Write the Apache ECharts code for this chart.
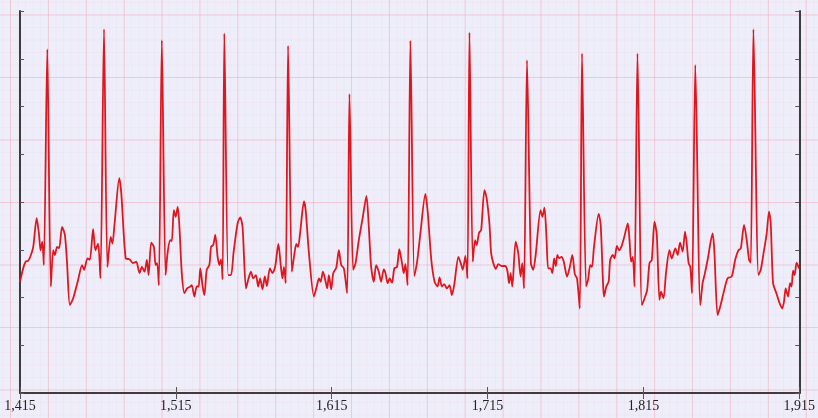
<!DOCTYPE html>
<html>
<head>
<meta charset="utf-8">
<title>ECG</title>
<script src="https://cdn.jsdelivr.net/npm/echarts@6/dist/echarts.min.js"></script>
<style>
  html, body {
    margin: 0;
    padding: 0;
  }
  body {
    width: 818px;
    height: 418px;
    background-color: #eeeefa;
    /* ecg paper: major + minor pink lines */
    background-image:
      linear-gradient(to right, rgba(242, 165, 180, 0.45) 1px, transparent 1px),
      linear-gradient(to bottom, rgba(242, 165, 180, 0.45) 1px, transparent 1px),
      linear-gradient(to right, rgba(236, 190, 210, 0.16) 1px, transparent 1px),
      linear-gradient(to bottom, rgba(236, 190, 210, 0.16) 1px, transparent 1px);
    background-size: 37.9px 100%, 100% 62.5px, 7.58px 100%, 100% 12.5px;
    background-position: 10px 0, 0 14.5px, 10px 0, 0 14.5px;
  }
  #chart {
    width: 818px;
    height: 418px;
  }
</style>
</head>
<body>
<div id="chart"></div>
<script>
// x ticks (sample index)
var xMin = 1415
var xMax = 1915
var xStep = 100

// sample index of each traced point
var sampleIdx = [
  1415.0, 1417.1, 1418.6, 1420.3, 1422.0, 1423.5, 1425.7, 1427.1, 1428.2, 1429.3,
  1430.3, 1432.5, 1434.8, 1436.3, 1437.4, 1438.8, 1440.1, 1442.0, 1443.8, 1445.2,
  1447.0, 1449.1, 1452.3, 1454.8, 1456.1, 1458.3, 1459.8, 1461.9, 1463.4, 1465.1,
  1466.6, 1468.9, 1471.1, 1473.2, 1474.3, 1475.7, 1478.7, 1480.0, 1482.8, 1485.3,
  1487.4, 1489.6, 1491.7, 1493.2, 1494.9, 1496.4, 1497.5, 1499.2, 1500.9, 1502.0,
  1503.0, 1504.1, 1506.0, 1508.4, 1509.8, 1511.4, 1512.4, 1513.7, 1514.9, 1516.2,
  1517.3, 1518.8, 1520.5, 1522.2, 1524.3, 1525.2, 1526.9, 1528.4, 1529.6, 1530.7,
  1532.2, 1533.3, 1534.8, 1536.5, 1537.6, 1539.0, 1540.3, 1541.8, 1542.9, 1544.0,
  1545.0, 1546.1, 1548.6, 1550.4, 1552.0, 1554.6, 1556.3, 1557.8, 1560.0, 1561.4,
  1563.2, 1564.6, 1566.4, 1567.8, 1569.1, 1570.6, 1572.1, 1573.4, 1575.3, 1577.0,
  1578.7, 1580.8, 1582.3, 1583.4, 1584.4, 1585.5, 1587.0, 1589.4, 1590.8, 1592.3,
  1593.4, 1594.7, 1597.2, 1598.3, 1600.4, 1603.6, 1605.4, 1606.8, 1607.9, 1609.4,
  1611.1, 1612.1, 1613.2, 1614.7, 1616.0, 1617.9, 1619.6, 1621.1, 1622.8, 1624.9,
  1626.4, 1628.7, 1630.3, 1632.4, 1635.0, 1637.3, 1638.8, 1640.3, 1642.0, 1643.5,
  1645.2, 1646.7, 1648.4, 1649.5, 1650.9, 1652.2, 1653.7, 1655.2, 1656.9, 1658.4,
  1660.1, 1661.2, 1662.3, 1663.7, 1665.5, 1668.0, 1669.7, 1671.9, 1675.1, 1676.7,
  1678.9, 1681.0, 1682.9, 1684.2, 1685.7, 1687.2, 1688.9, 1690.6, 1692.1, 1693.6,
  1696.3, 1697.8, 1699.1, 1700.8, 1702.1, 1703.4, 1705.5, 1707.0, 1708.0, 1709.6,
  1710.9, 1713.0, 1714.4, 1716.2, 1717.3, 1718.7, 1720.3, 1721.9, 1724.0, 1726.2,
  1727.7, 1728.8, 1729.8, 1730.9, 1733.0, 1734.7, 1736.2, 1737.3, 1738.4, 1740.3,
  1742.8, 1744.3, 1746.0, 1749.0, 1750.2, 1751.5, 1752.8, 1753.9, 1755.4, 1756.6,
  1757.7, 1758.8, 1759.8, 1760.9, 1762.4, 1763.9, 1766.0, 1767.8, 1769.4, 1771.0,
  1772.4, 1774.2, 1775.6, 1778.2, 1779.5, 1780.9, 1782.0, 1783.3, 1786.3, 1787.6,
  1789.1, 1789.7, 1791.2, 1792.7, 1793.7, 1795.4, 1796.5, 1798.0, 1799.3, 1800.8,
  1802.5, 1805.0, 1806.1, 1807.1, 1808.2, 1809.3, 1811.2, 1814.0, 1815.7, 1817.4,
  1818.9, 1820.4, 1822.1, 1823.6, 1825.3, 1826.3, 1827.9, 1829.5, 1831.7, 1833.2,
  1835.5, 1837.0, 1838.5, 1840.2, 1841.7, 1842.8, 1844.0, 1845.1, 1846.2, 1848.3,
  1851.5, 1853.0, 1854.5, 1856.2, 1859.4, 1860.5, 1862.6, 1864.3, 1866.9, 1869.0,
  1871.7, 1873.9, 1876.0, 1877.5, 1879.6, 1881.3, 1882.8, 1883.9, 1885.6, 1888.8,
  1890.3, 1892.4, 1894.1, 1895.6, 1896.7, 1898.2, 1900.3, 1902.4, 1904.1, 1905.2,
  1906.3, 1907.8, 1909.1, 1910.1, 1911.0, 1912.0, 1913.3, 1914.8
]

// signal amplitude at each point
var ecgValues = [
  2.33, 2.62, 2.75, 2.77, 2.89, 3.06, 3.66, 3.35, 2.99, 3.17,
  2.68, 7.20, 2.23, 2.99, 2.89, 3.06, 3.03, 3.48, 3.31, 2.72,
  1.84, 1.98, 2.37, 2.68, 2.58, 2.82, 2.79, 3.43, 2.99, 3.13,
  2.40, 7.62, 2.64, 3.27, 3.13, 3.55, 4.50, 4.18, 2.82, 2.80,
  2.72, 2.75, 2.51, 2.64, 2.54, 2.79, 2.47, 3.15, 3.06, 2.68,
  2.72, 2.26, 7.39, 2.47, 2.96, 3.20, 3.18, 3.83, 3.69, 3.90,
  3.48, 2.51, 2.09, 2.19, 2.23, 2.26, 2.02, 2.23, 2.23, 2.61,
  2.23, 2.05, 2.58, 2.68, 3.06, 3.10, 3.31, 2.85, 2.68, 2.80,
  2.38, 7.53, 2.47, 2.47, 2.93, 3.55, 3.68, 3.48, 2.19, 2.37,
  2.54, 2.40, 2.47, 2.23, 2.40, 2.17, 2.44, 2.24, 2.61, 2.51,
  2.64, 3.12, 2.68, 2.40, 2.64, 2.30, 7.27, 2.54, 2.85, 3.12,
  3.06, 3.34, 4.01, 3.83, 2.93, 2.02, 2.23, 2.40, 2.33, 2.54,
  2.33, 2.19, 2.47, 2.17, 2.51, 2.62, 2.99, 2.68, 2.61, 2.09,
  6.26, 2.58, 2.72, 3.20, 3.69, 4.13, 3.48, 2.64, 2.33, 2.68,
  2.54, 2.33, 2.59, 2.51, 2.30, 2.40, 2.31, 2.61, 2.64, 3.01,
  2.72, 2.51, 2.70, 2.26, 7.38, 2.45, 2.72, 3.34, 4.17, 3.76,
  2.79, 2.33, 2.23, 2.42, 2.23, 2.28, 2.19, 2.26, 2.05, 2.26,
  2.85, 2.72, 2.58, 2.87, 2.40, 7.55, 2.75, 3.20, 3.10, 3.36,
  3.41, 4.25, 4.08, 3.55, 2.93, 2.72, 2.60, 2.70, 2.66, 2.66,
  2.56, 2.30, 2.51, 2.23, 3.17, 2.93, 2.44, 2.72, 2.19, 6.97,
  2.72, 2.58, 2.93, 3.83, 3.69, 3.88, 3.27, 2.61, 2.61, 2.51,
  2.82, 2.66, 2.89, 2.82, 2.85, 2.75, 2.44, 2.64, 2.89, 2.49,
  2.40, 1.77, 7.11, 2.23, 2.37, 2.68, 2.64, 3.06, 3.75, 3.52,
  2.30, 2.02, 2.23, 2.33, 2.79, 2.89, 2.82, 3.08, 2.99, 3.06,
  3.24, 3.55, 3.20, 2.75, 2.85, 2.23, 7.11, 1.84, 1.98, 2.16,
  2.72, 2.79, 3.59, 3.31, 1.95, 2.12, 1.98, 2.51, 2.99, 2.82,
  3.03, 2.89, 3.15, 2.96, 3.38, 3.13, 2.72, 2.64, 2.09, 6.87,
  1.84, 2.30, 2.51, 2.79, 3.34, 2.99, 1.63, 1.81, 2.16, 2.40,
  2.44, 2.79, 2.99, 3.03, 3.52, 3.20, 2.79, 2.73, 7.62, 2.47,
  2.58, 2.99, 3.34, 3.80, 3.55, 2.30, 2.09, 1.88, 1.77, 1.91,
  2.19, 2.02, 2.30, 2.23, 2.56, 2.47, 2.73, 2.61
]

var yMin = 0
var yMax = 8
var yStep = 1

var seriesData = []
for (var i = 0; i < sampleIdx.length; i++) {
  seriesData.push([sampleIdx[i], ecgValues[i]])
}

var axisLineStyle = { color: '#3c3c3c', width: 2 }
var tickStyle = { color: '#555', width: 1 }

var chart = echarts.init(document.getElementById('chart'))
chart.setOption({
  animation: false,
  backgroundColor: 'transparent',
  grid: {
    left: 20,
    right: 16,
    top: 11,
    bottom: 25
  },
  xAxis: [{
    type: 'value',
    position: 'bottom',
    min: xMin,
    max: xMax,
    interval: xStep,
    axisLine: { show: true, lineStyle: axisLineStyle },
    axisTick: { show: true, inside: true, length: 6, lineStyle: tickStyle },
    axisLabel: {
      color: '#222',
      fontFamily: 'Liberation Serif',
      fontSize: 14,
      margin: 6
    },
    splitLine: { show: false }
  }, {
    type: 'value',
    position: 'top',
    min: xMin,
    max: xMax,
    interval: xStep,
    axisLine: { show: true, lineStyle: axisLineStyle },
    axisTick: { show: true, inside: true, length: 6, lineStyle: tickStyle },
    axisLabel: { show: false },
    splitLine: { show: false }
  }],
  yAxis: [{
    type: 'value',
    position: 'left',
    min: yMin,
    max: yMax,
    interval: yStep,
    axisLine: { show: true, lineStyle: axisLineStyle },
    axisTick: { show: true, inside: true, length: 4, lineStyle: tickStyle },
    axisLabel: { show: false },
    splitLine: { show: false }
  }, {
    type: 'value',
    position: 'right',
    min: yMin,
    max: yMax,
    interval: yStep,
    axisLine: { show: true, lineStyle: axisLineStyle },
    axisTick: { show: true, inside: true, length: 4, lineStyle: tickStyle },
    axisLabel: { show: false },
    splitLine: { show: false }
  }],
  series: [{
    name: 'ECG',
    type: 'line',
    xAxisIndex: 0,
    yAxisIndex: 0,
    data: seriesData,
    showSymbol: false,
    smooth: 0.25,
    lineStyle: { color: '#e0161e', width: 1.8 }
  }]
})
</script>
</body>
</html>
